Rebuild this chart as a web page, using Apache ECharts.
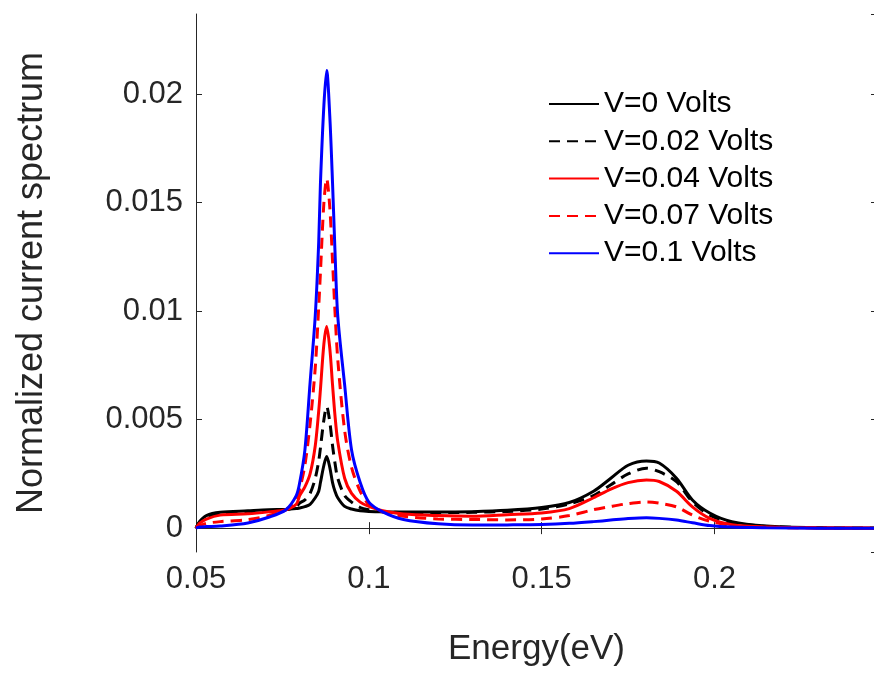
<!DOCTYPE html>
<html>
<head>
<meta charset="utf-8">
<script src="https://cdn.jsdelivr.net/npm/echarts@6/dist/echarts.min.js"></script>
<style>
    html, body { margin: 0; padding: 0; background: #fff; }
    #chart { width: 874px; height: 674px; }
</style>
</head>
<body>
<div id="chart"></div>
<script>
    // energy grid (eV), denser around the narrow peak
    let energy = [0.050, 0.051, 0.053, 0.057, 0.065, 0.071, 0.076, 0.079, 0.080, 0.0815,
        0.083, 0.0845, 0.0855, 0.086, 0.087, 0.0878, 0.0887, 0.0895, 0.0902, 0.091,
        0.093, 0.095, 0.0975, 0.100, 0.104, 0.110, 0.120, 0.130, 0.140, 0.150,
        0.158, 0.165, 0.170, 0.175, 0.1803, 0.184, 0.189, 0.1936, 0.1986, 0.205,
        0.215, 0.230, 0.247]

    let v000 = [0, 0.0003, 0.00058, 0.00073, 0.0008, 0.00085, 0.00086, 0.0009, 0.00093, 0.00099,
        0.0011, 0.0014, 0.0017, 0.0021, 0.0029, 0.0033, 0.0028, 0.0021, 0.0017, 0.0014,
        0.001, 0.00088, 0.0008, 0.00077, 0.00075, 0.00074, 0.00074, 0.00076, 0.00082, 0.00095,
        0.00118, 0.0017, 0.0023, 0.0029, 0.0031, 0.003, 0.0023, 0.0013, 0.0007, 0.0003,
        0.0001, 0.00002, 0]

    let v002 = [0, 0.00027, 0.00052, 0.00067, 0.00073, 0.0008, 0.00085, 0.001, 0.00116, 0.0013,
        0.0016, 0.0023, 0.0031, 0.0037, 0.005, 0.0056, 0.0049, 0.0038, 0.003, 0.0023,
        0.0015, 0.0012, 0.00095, 0.00085, 0.00076, 0.00072, 0.00072, 0.00073, 0.00077, 0.00088,
        0.00112, 0.0015, 0.002, 0.0025, 0.00276, 0.0026, 0.00214, 0.00121, 0.0006, 0.00025,
        0.00008, 0.00002, 0]

    let v004 = [0, 0.00022, 0.00042, 0.0006, 0.00066, 0.00075, 0.00085, 0.0011, 0.0015, 0.0019,
        0.0025, 0.0038, 0.0054, 0.0064, 0.0085, 0.0093, 0.0083, 0.0066, 0.0052, 0.004,
        0.0023, 0.0016, 0.0012, 0.001, 0.0008, 0.00065, 0.00058, 0.00055, 0.00062, 0.0007,
        0.0009, 0.0014, 0.0018, 0.0021, 0.00222, 0.00215, 0.0017, 0.00098, 0.00045, 0.00016,
        0.00005, 0.00001, 0]

    let v007 = [0, 0.0001, 0.00022, 0.0003, 0.00039, 0.00058, 0.00085, 0.0013, 0.0018, 0.0029,
        0.0048, 0.0074, 0.0102, 0.0118, 0.015, 0.0161, 0.0148, 0.0123, 0.01, 0.0078,
        0.0045, 0.0028, 0.0017, 0.0011, 0.00075, 0.00055, 0.00042, 0.0004, 0.00038, 0.00042,
        0.00058, 0.00085, 0.001, 0.00113, 0.00121, 0.00115, 0.00098, 0.0006, 0.00032, 0.00012,
        0.00004, 0.00001, 0]

    let v010 = [0, 0.00005, 0.00007, 0.0001, 0.00024, 0.0005, 0.00085, 0.0015, 0.0021, 0.0036,
        0.0067, 0.0098, 0.0132, 0.0159, 0.0195, 0.0211, 0.019, 0.0159, 0.0128, 0.0098,
        0.0066, 0.0036, 0.0021, 0.0012, 0.00075, 0.0004, 0.0002, 0.00014, 0.00015, 0.00017,
        0.00022, 0.0003, 0.00037, 0.00044, 0.00048, 0.00045, 0.00037, 0.00025, 0.00012, 0.00005,
        0.00002, 0, 0]

    let names = ['V=0 Volts', 'V=0.02 Volts', 'V=0.04 Volts', 'V=0.07 Volts', 'V=0.1 Volts']
    let values = [v000, v002, v004, v007, v010]
    let colors = ['#000000', '#000000', '#ff0000', '#ff0000', '#0000ff']
    let dashes = ['solid', [11, 7], 'solid', [11, 7], 'solid']

    let xTicks = [0.05, 0.1, 0.15, 0.2]
    let yTicks = [0, 0.005, 0.01, 0.015, 0.02]

    let textColor = '#262626'
    let fontFamily = '"Liberation Sans", Arial, Helvetica, sans-serif'

    function fmt(v) {
        return String(Math.round(v * 10000) / 10000)
    }

    let chart = echarts.init(document.getElementById('chart'))

    let series = names.map((name, i) => {
        return {
            name: name,
            type: 'line',
            data: energy.map((e, j) => [e, values[i][j]]),
            showSymbol: false,
            symbol: 'none',
            smooth: 0.3,
            lineStyle: {
                color: colors[i],
                width: 3,
                type: dashes[i]
            },
            itemStyle: { color: colors[i] },
            z: 2 + i
        }
    })

    let axisLine = { show: true, lineStyle: { color: textColor, width: 1 } }

    const options = {
        animation: false,
        backgroundColor: '#ffffff',
        textStyle: { fontFamily: fontFamily },
        grid: {
            left: 196,
            top: 14,
            right: -3,
            bottom: 122,
            containLabel: false,
            outerBoundsMode: 'none'
        },
        legend: {
            orient: 'vertical',
            left: 548,
            top: 89,
            padding: 0,
            itemGap: 7.3,
            itemWidth: 50,
            itemHeight: 14,
            data: names,
            itemStyle: { opacity: 0 },
            textStyle: {
                color: '#000000',
                fontSize: 30,
                lineHeight: 30,
                fontFamily: fontFamily
            }
        },
        xAxis: [
            {
                type: 'value',
                min: 0.05,
                max: 0.247,
                interval: 0.05,
                name: 'Energy(eV)',
                nameLocation: 'middle',
                nameGap: 80,
                nameTextStyle: { color: textColor, fontSize: 35 },
                axisLine: axisLine,
                axisTick: { inside: true, length: 6, lineStyle: { color: textColor } },
                axisLabel: {
                    color: textColor,
                    fontSize: 31,
                    margin: 12,
                    formatter: v => xTicks.some(t => Math.abs(t - v) < 1e-9) ? fmt(v) : ''
                },
                splitLine: { show: false }
            },
            {
                type: 'value',
                position: 'top',
                min: 0.05,
                max: 0.247,
                interval: 0.05,
                axisLine: axisLine,
                axisTick: { inside: true, length: 6, lineStyle: { color: textColor } },
                axisLabel: { show: false },
                splitLine: { show: false }
            }
        ],
        yAxis: [
            {
                type: 'value',
                min: -0.0011,
                max: 0.0237,
                splitNumber: 5,
                name: 'Normalized current spectrum',
                nameLocation: 'middle',
                nameGap: 146,
                nameTextStyle: { color: textColor, fontSize: 36 },
                axisLine: axisLine,
                axisTick: { inside: true, length: 6, lineStyle: { color: textColor } },
                axisLabel: {
                    color: textColor,
                    fontSize: 31,
                    margin: 13,
                    showMinLabel: false,
                    showMaxLabel: false,
                    formatter: v => yTicks.some(t => Math.abs(t - v) < 1e-9) ? fmt(v) : ''
                },
                splitLine: { show: false }
            },
            {
                type: 'value',
                position: 'right',
                min: -0.0011,
                max: 0.0237,
                splitNumber: 5,
                axisLine: axisLine,
                axisTick: { inside: true, length: 6, lineStyle: { color: textColor } },
                axisLabel: { show: false },
                splitLine: { show: false }
            }
        ],
        series: series
    }

    chart.setOption(options)
</script>
</body>
</html>
